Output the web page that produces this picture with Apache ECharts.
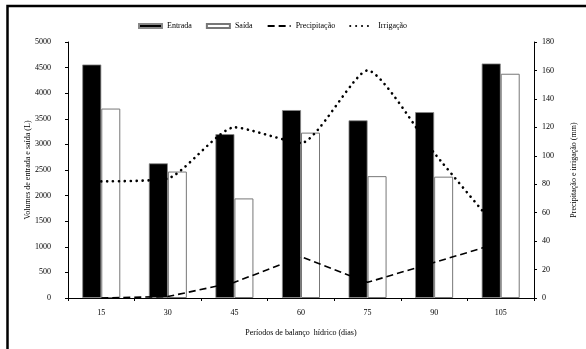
<!DOCTYPE html>
<html>
<head>
<meta charset="utf-8">
<script src="https://cdn.jsdelivr.net/npm/echarts@6/dist/echarts.min.js"></script>
<style>html,body{margin:0;padding:0;background:#fff}#c{width:586px;height:349px}</style>
</head>
<body>
<div id="c"></div>
<script>
const categories = ['15', '30', '45', '60', '75', '90', '105'];
const entrada = [4560, 2630, 3200, 3670, 3470, 3630, 4580];
const saida = [3700, 2470, 1945, 3230, 2380, 2370, 4380];
const precipitacao = [0, 1, 11, 29, 11, 25, 39];
const irrigacao = [82, 84, 120, 109, 160, 102, 46];
const leftTicks = {min: 0, max: 5000, interval: 500};
const rightTicks = {min: 0, max: 180, interval: 20};

const font = 'Liberation Serif';
const chart = echarts.init(document.getElementById('c'), null, {renderer: 'canvas'});
const hiddenSymbol = {color: 'rgba(0,0,0,0)', borderWidth: 0, opacity: 0};
chart.setOption({
  animation: false,
  backgroundColor: '#fff',
  textStyle: {fontFamily: font, color: '#000'},
  graphic: [{
    type: 'rect', shape: {x: 7.5, y: 6, width: 700, height: 500},
    style: {fill: 'none', stroke: '#000', lineWidth: 2.5}, z: 100
  }],
  legend: {
    left: 133, top: 17, itemWidth: 23, itemHeight: 4, itemGap: 14,
    textStyle: {fontFamily: font, fontSize: 8, color: '#000'},
    data: [
      {name: 'Entrada', icon: 'rect'},
      {name: 'Saída', icon: 'rect'},
      {name: 'Precipitação', itemStyle: hiddenSymbol},
      {name: 'Irrigação', itemStyle: hiddenSymbol}
    ]
  },
  grid: {left: 68, right: 46, top: 42, bottom: 51},
  xAxis: {
    type: 'category', data: categories,
    name: 'Períodos de balanço  hídrico (dias)', nameLocation: 'middle', nameGap: 31,
    nameMoveOverlap: false,
    nameTextStyle: {fontFamily: font, fontSize: 8, color: '#000'},
    axisLine: {lineStyle: {color: '#000', width: 1}},
    axisTick: {show: true, length: 3, lineStyle: {color: '#000'}},
    axisLabel: {fontFamily: font, fontSize: 8, color: '#000', margin: 11},
    splitLine: {show: false}
  },
  yAxis: [{
    type: 'value', min: leftTicks.min, max: leftTicks.max, interval: leftTicks.interval,
    name: 'Volumes de entrada e saída (L)', nameLocation: 'middle', nameGap: 36, nameRotate: 90,
    nameMoveOverlap: false,
    nameTextStyle: {fontFamily: font, fontSize: 8, color: '#000'},
    axisLine: {show: true, lineStyle: {color: '#000', width: 1}},
    axisTick: {show: true, length: 3, lineStyle: {color: '#000'}},
    axisLabel: {fontFamily: font, fontSize: 8, color: '#000', margin: 17, formatter: v => String(v)},
    splitLine: {show: false}
  }, {
    type: 'value', position: 'right', min: rightTicks.min, max: rightTicks.max, interval: rightTicks.interval,
    name: 'Precipitação e irrigação (mm)', nameLocation: 'middle', nameGap: 36, nameRotate: 90,
    nameMoveOverlap: false,
    nameTextStyle: {fontFamily: font, fontSize: 8, color: '#000'},
    axisLine: {show: true, lineStyle: {color: '#000', width: 1}},
    axisTick: {show: true, length: 3, lineStyle: {color: '#000'}},
    axisLabel: {fontFamily: font, fontSize: 8, color: '#000', margin: 8, formatter: v => String(v)},
    splitLine: {show: false}
  }],
  series: [{
    name: 'Entrada', type: 'bar', data: entrada, barWidth: 19, barGap: '0%',
    itemStyle: {color: '#000', borderColor: '#888', borderWidth: 0.8}, z: 2
  }, {
    name: 'Saída', type: 'bar', data: saida, barWidth: 19,
    itemStyle: {color: '#fff', borderColor: '#777', borderWidth: 1}, z: 2
  }, {
    name: 'Precipitação', type: 'line', yAxisIndex: 1, data: precipitacao,
    symbol: 'none', smooth: false, color: '#000',
    lineStyle: {color: '#000', width: 1.6, type: [7, 4]}, z: 5
  }, {
    name: 'Irrigação', type: 'line', yAxisIndex: 1, data: irrigacao,
    symbol: 'none', smooth: 0.2, color: '#000',
    lineStyle: {color: '#000', width: 2.6, type: [0.1, 5.8], cap: 'round'}, z: 5
  }]
});
</script>
</body>
</html>
